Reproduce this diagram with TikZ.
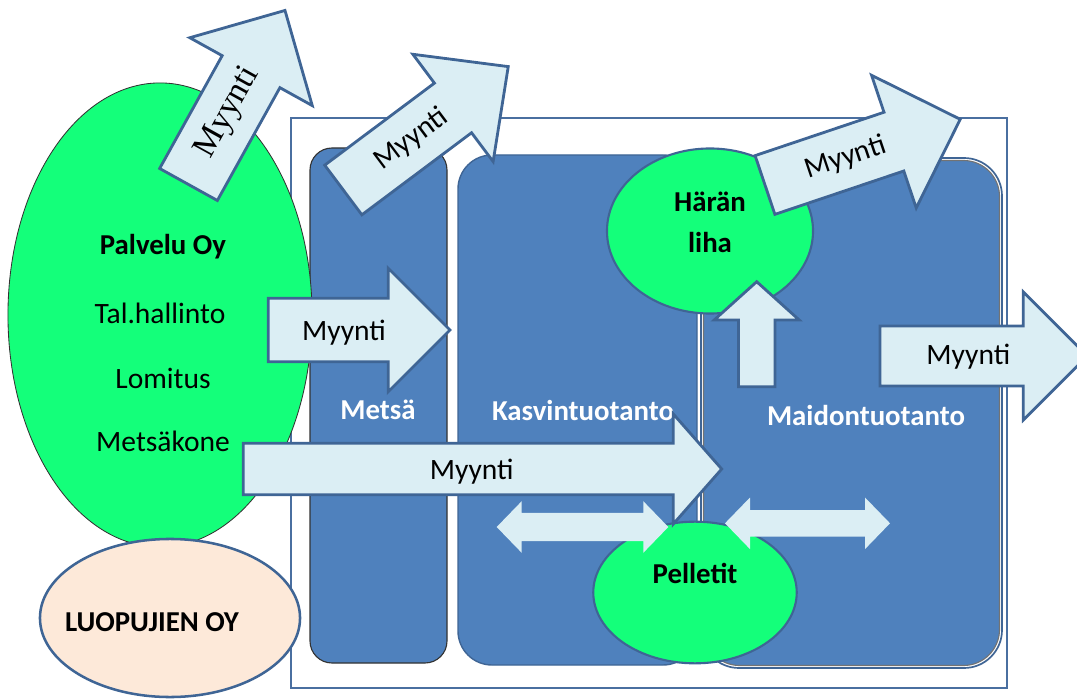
\documentclass[tikz,border=0pt]{standalone}
\usepackage{fontspec}
\setmainfont{Carlito}
\newfontfamily\seriffont{Liberation Serif}
\usetikzlibrary{shapes.geometric}

\definecolor{laatikko}{HTML}{4F81BD}
\definecolor{reuna}{HTML}{3F6595}
\definecolor{kehys}{HTML}{4A6FA0}
\definecolor{nuolivari}{HTML}{DBEEF4}
\definecolor{vihrea}{HTML}{14FF7A}
\definecolor{persikka}{HTML}{FDE9D9}

\tikzset{
  pallo/.style 2 args={ellipse, inner sep=0pt, minimum width=#1*0.05cm, minimum height=#2*0.05cm},
  teksti/.style={font=\fontsize{21}{29}\selectfont, align=center, inner sep=0pt},
  lihava/.style={teksti, font=\fontsize{20.5}{29}\selectfont\bfseries},
  valkoinen/.style={lihava, text=white},
  blocknuoli/.style={fill=nuolivari, draw=reuna, line width=2pt, line join=miter}
}

% nuoli: hanta, kulma, pituus, varsi, karki, karjen pituus
\newcommand{\nuoli}[6]{%
  \draw[blocknuoli, shift={#1}, rotate=#2] (0,-#4) -- ({#3-#6},-#4) -- ({#3-#6},-#5)
    -- (#3,0) -- ({#3-#6},#5) -- ({#3-#6},#4) -- (0,#4) -- cycle;}
% kaksisuuntainen nuoli: vasen karki, pituus, varsi, karki, karjen pituus
\newcommand{\tuplanuoli}[5]{%
  \fill[nuolivari, shift={#1}] (0,0) -- (#5,#4) -- (#5,#3) -- ({#2-#5},#3) -- ({#2-#5},#4)
    -- (#2,0) -- ({#2-#5},-#4) -- ({#2-#5},-#3) -- (#5,-#3) -- (#5,-#4) -- cycle;}

\begin{document}
\begin{tikzpicture}[x=0.025cm, y=0.025cm]
  \clip (0,0) rectangle (1077,698);

  % Kehys ja laatikot
  \draw[kehys, fill=white, line width=2pt] (291,10) rectangle (1007,580);
  \draw[fill=laatikko, draw=black!80, line width=0.8pt, rounded corners=0.55cm] (310,35) rectangle (447,550);
  \draw[fill=laatikko, draw=reuna, line width=1pt, rounded corners=0.85cm] (458,33) rectangle (697,543);
  \draw[fill=white, draw=reuna, line width=1.2pt, rounded corners=0.95cm] (701,30) rectangle (1002,540);
  \draw[fill=laatikko, draw=black!55, line width=0.8pt, rounded corners=0.9cm] (703.5,32.5) rectangle (999.5,537.5);

  % Ellipsit
  \node[pallo={152}{232}, fill=vihrea, draw=black!80, line width=0.6pt] (palvelu) at (160,383) {};
  \node[pallo={130}{79}, fill=persikka, draw=reuna, line width=1.8pt] (luopujien) at (170,80) {};
  \node[pallo={103}{82.5}, fill=vihrea, draw=reuna, line width=1.5pt] (haran) at (710,467) {};
  \node[pallo={101.7}{70.8}, fill=vihrea, draw=reuna, line width=1.5pt] (pelletit) at (695,105.5) {};

  % Tekstit
  \node[lihava] (palvelutxt) at (163,451) {Palvelu Oy};
  \node[teksti] (hallinto) at (160,385) {Tal.hallinto};
  \node[teksti] (lomitus) at (163,320) {Lomitus};
  \node[teksti] (metsakone) at (163,257) {Metsäkone};
  \node[lihava] (luopujientxt) at (152,76) {LUOPUJIEN OY};
  \node[lihava] (harantxt) at (710,476) {Härän\\liha};
  \node[lihava] (pellettxt) at (695,125) {Pelletit};
  \node[valkoinen] (metsa) at (378,288) {Metsä};
  \node[valkoinen] (kasvi) at (583,288) {Kasvintuotanto};
  \node[valkoinen] (maito) at (866,283) {Maidontuotanto};

  % Nuolet
  \nuoli{(188.5,513.5)}{61}{199}{33}{70}{70}
  \nuoli{(343.3,508)}{36.8}{206}{31}{67}{69}
  \nuoli{(765,513)}{18.6}{206}{31}{70}{70}
  \nuoli{(880,342)}{0}{207.3}{30}{64}{64}
  \nuoli{(268.3,368)}{0}{181.7}{31.7}{61.7}{61.7}
  \nuoli{(243.3,229)}{0}{478.4}{25.8}{55}{48.4}
  \nuoli{(756.7,311.3)}{90}{105}{18.3}{42.5}{38.3}
  \tuplanuoli{(496.7,171)}{171.6}{14.2}{25.8}{25}
  \tuplanuoli{(725,174.7)}{165}{13.3}{25.8}{25}

  \node[teksti, font=\seriffont\fontsize{24}{29}\selectfont, rotate=61] (myynti1) at (228.3,585.2) {Myynti};
  \node[teksti, rotate=36.8] (myynti2) at (411.4,558.9) {Myynti};
  \node[teksti, rotate=18.6] (myynti3) at (845.6,540.1) {Myynti};
  \node[teksti] (myynti4) at (968.3,341.3) {Myynti};
  \node[teksti] (myynti5) at (344,365) {Myynti};
  \node[teksti] (myynti6) at (471.7,226.3) {Myynti};
\end{tikzpicture}
\end{document}
